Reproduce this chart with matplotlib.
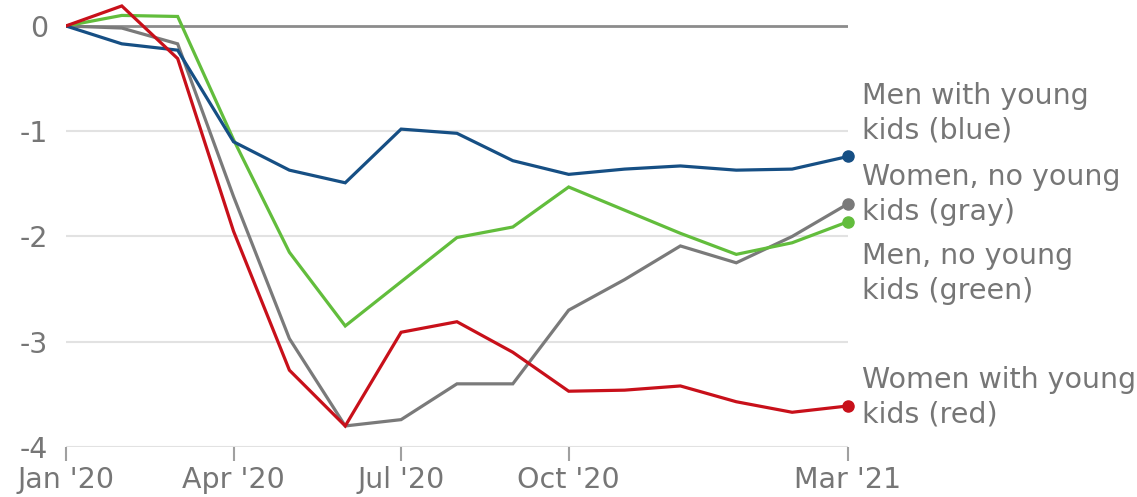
import matplotlib.pyplot as plt

plt.rcParams['font.family'] = ['DejaVu Sans']

months = ["Jan '20", "Feb '20", "Mar '20", "Apr '20", "May '20", "Jun '20", "Jul '20",
          "Aug '20", "Sep '20", "Oct '20", "Nov '20", "Dec '20", "Jan '21", "Feb '21", "Mar '21"]
tick_labels = ["Jan '20", "Apr '20", "Jul '20", "Oct '20", "Mar '21"]

men_kids = [0, -0.17, -0.23, -1.10, -1.37, -1.49, -0.98, -1.02, -1.28, -1.41, -1.36, -1.33, -1.37, -1.36, -1.24]
women_nokids = [0, -0.02, -0.17, -1.62, -2.97, -3.80, -3.74, -3.40, -3.40, -2.70, -2.41, -2.09, -2.25, -2.00, -1.69]
men_nokids = [0, 0.10, 0.09, -1.08, -2.15, -2.85, -2.43, -2.01, -1.91, -1.53, -1.75, -1.97, -2.17, -2.06, -1.86]
women_kids = [0, 0.19, -0.31, -1.95, -3.27, -3.80, -2.91, -2.81, -3.10, -3.47, -3.46, -3.42, -3.57, -3.67, -3.61]

series = [
    (women_nokids, "#7a7a7a", "Women, no young\nkids (gray)"),
    (men_nokids, "#62bd3c", "Men, no young\nkids (green)"),
    (men_kids, "#164f84", "Men with young\nkids (blue)"),
    (women_kids, "#c8101a", "Women with young\nkids (red)"),
]
label_y = {"gray": -1.60, "green": -2.35, "blue": -0.83, "red": -3.53}

fig = plt.figure(figsize=(11.37, 4.97), dpi=100)
ax = fig.add_axes([0.058, 0.1006, 0.6878, 0.8938])

x = list(range(len(months)))
for v in [-1, -2, -3, -4]:
    ax.axhline(v, color="#e2e2e2", lw=1.5, zorder=1)
ax.axhline(0, color="#8c8c8c", lw=2, zorder=1)

for vals, col, lab in series:
    ax.plot(x, vals, color=col, lw=2.3, zorder=3, solid_joinstyle="miter")
    ax.plot(x[-1], vals[-1], "o", color=col, ms=8, zorder=4, clip_on=False)
    key = lab.split("(")[1].rstrip(")")
    ax.text(x[-1] + 0.25, label_y[key], lab, color="#767676", fontsize=20.5,
            va="center", ha="left", linespacing=1.3)

ax.set_xlim(0, len(months) - 1)
ax.set_ylim(-4, 0.22)
ax.set_xticks([months.index(t) for t in tick_labels])
ax.set_xticklabels(tick_labels)
ax.set_yticks([0, -1, -2, -3, -4])
ax.set_yticklabels(["0", "-1", "-2", "-3", "-4"])
for s in ax.spines.values():
    s.set_visible(False)
ax.tick_params(axis="x", length=10, width=1.5, color="#a0a0a0", pad=4,
               labelsize=20.5, labelcolor="#767676")
ax.tick_params(axis="y", length=0, pad=13, labelsize=20.5, labelcolor="#767676")

fig.savefig("out.png", dpi=100)
